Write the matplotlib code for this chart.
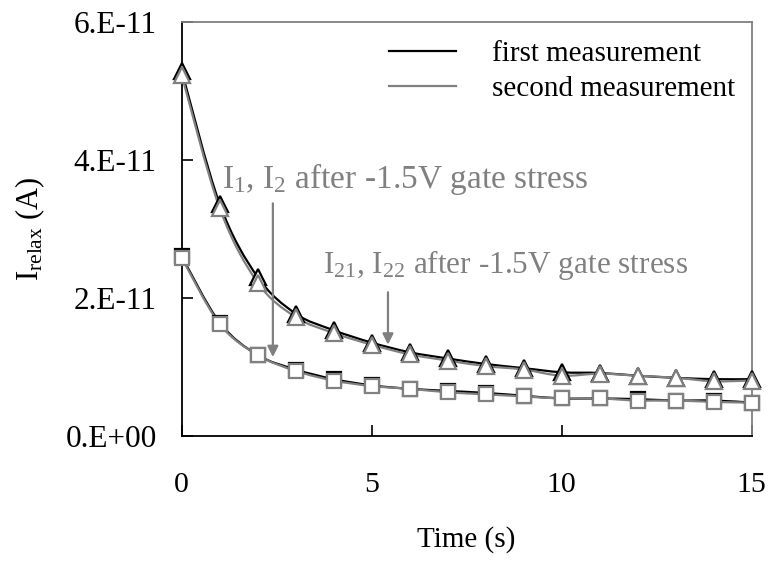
import numpy as np
import matplotlib
matplotlib.use("Agg")
import matplotlib.pyplot as plt
from matplotlib.path import Path
from matplotlib.patches import PathPatch
from matplotlib.lines import Line2D
from matplotlib.ticker import FixedLocator, FixedFormatter

plt.rcParams['font.family'] = ['Liberation Serif', 'DejaVu Serif']
plt.rcParams['mathtext.fontset'] = 'custom'
plt.rcParams['mathtext.rm'] = 'Liberation Serif'
plt.rcParams['mathtext.it'] = 'Liberation Serif'

time_s = list(range(16))
# values in units of 1E-11 A
first_tri = [5.29, 3.36, 2.30, 1.77, 1.53, 1.35, 1.21, 1.12, 1.04, 0.98, 0.92, 0.91, 0.87, 0.84, 0.82, 0.82]
second_tri = [5.23, 3.30, 2.22, 1.72, 1.49, 1.32, 1.18, 1.09, 1.01, 0.96, 0.87, 0.90, 0.87, 0.84, 0.79, 0.80]
first_sq = [2.60, 1.64, 1.17, 0.96, 0.82, 0.73, 0.68, 0.65, 0.62, 0.58, 0.54, 0.54, 0.53, 0.51, 0.51, 0.48]
second_sq = [2.58, 1.62, 1.17, 0.94, 0.80, 0.72, 0.68, 0.63, 0.60, 0.57, 0.54, 0.54, 0.51, 0.51, 0.49, 0.48]
scale = 1e-11

y_ticks = [0, 2e-11, 4e-11, 6e-11]
y_tick_labels = ["0.E+00", "2.E-11", "4.E-11", "6.E-11"]
x_ticks = [0, 5, 10, 15]
x_tick_labels = ["0", "5", "10", "15"]

legend_labels = ["first measurement", "second measurement"]
annot1 = r"I$_1$, I$_2$ after -1.5V gate stress"
annot2 = r"I$_{21}$, I$_{22}$ after -1.5V gate stress"

BLACK = "#000000"
GRAY = "#808080"

fig = plt.figure(figsize=(7.71, 5.67), dpi=100)
ax = fig.add_axes([181.7/771, 1-435.7/567, (751.5-181.7)/771, (435.7-22)/567])


def smooth_path(x, y):
    pts = np.column_stack([x, y])
    n = len(pts)
    verts = [pts[0]]
    codes = [Path.MOVETO]
    for i in range(n - 1):
        p0 = pts[i - 1] if i > 0 else pts[i]
        p1 = pts[i]
        p2 = pts[i + 1]
        p3 = pts[i + 2] if i + 2 < n else pts[i + 1]
        c1 = p1 + (p2 - p0) / 6.0
        c2 = p2 - (p3 - p1) / 6.0
        verts += [c1, c2, p2]
        codes += [Path.CURVE4] * 3
    return Path(verts, codes)


def draw_series(vals, color, marker, ms):
    y = np.array(vals) * scale
    x = np.array(time_s, dtype=float)
    patch = PathPatch(smooth_path(x, y), facecolor='none', edgecolor=color,
                      lw=1.6, transform=ax.transData, zorder=3)
    ax.add_patch(patch)
    ax.plot(x, y, linestyle='none', marker=marker, ms=ms, mfc='white',
            mec=color, mew=1.6, zorder=4, clip_on=False)


draw_series(first_tri, BLACK, '^', 11)
draw_series(first_sq, BLACK, 's', 10)
draw_series(second_tri, GRAY, '^', 11)
draw_series(second_sq, GRAY, 's', 10)

ax.set_xlim(0, 15)
ax.set_ylim(0, 6e-11)
ax.xaxis.set_major_locator(FixedLocator(x_ticks))
ax.xaxis.set_major_formatter(FixedFormatter(x_tick_labels))
ax.yaxis.set_major_locator(FixedLocator(y_ticks))
ax.yaxis.set_major_formatter(FixedFormatter(y_tick_labels))
ax.tick_params(direction='in', length=8, width=1.2, color=BLACK)
ax.tick_params(axis='x', pad=26, labelsize=21.5)
ax.tick_params(axis='y', pad=18, labelsize=22.5)

for s in ['left', 'bottom']:
    ax.spines[s].set_color(BLACK)
    ax.spines[s].set_linewidth(1.3)
for s in ['top', 'right']:
    ax.spines[s].set_color(GRAY)
    ax.spines[s].set_linewidth(1.3)

ax.set_xlabel("Time (s)", fontsize=21, labelpad=20)
ax.set_ylabel(r"I$_{\mathrm{relax}}$ (A)", fontsize=22, labelpad=13)

ax.text(1.06, 3.59e-11, annot1, color=GRAY, fontsize=24, va='baseline', ha='left')
ax.text(3.72, 2.36e-11, annot2, color=GRAY, fontsize=22.5, va='baseline', ha='left')
ax.annotate("", xy=(2.40, 1.14e-11), xytext=(2.40, 3.37e-11),
            arrowprops=dict(arrowstyle='-|>', color=GRAY, lw=1.6,
                            mutation_scale=16, shrinkA=0, shrinkB=0))
ax.annotate("", xy=(5.43, 1.32e-11), xytext=(5.43, 2.08e-11),
            arrowprops=dict(arrowstyle='-|>', color=GRAY, lw=1.6,
                            mutation_scale=16, shrinkA=0, shrinkB=0))

handles = [Line2D([], [], color=BLACK, lw=1.6), Line2D([], [], color=GRAY, lw=1.6)]
ax.legend(handles, legend_labels, loc='upper left', bbox_to_anchor=(0.3635, 0.954),
          frameon=False, fontsize=21, handlelength=2.3, handletextpad=1.25,
          labelspacing=0.27, borderpad=0, borderaxespad=0)

fig.savefig("out.png", dpi=100)
